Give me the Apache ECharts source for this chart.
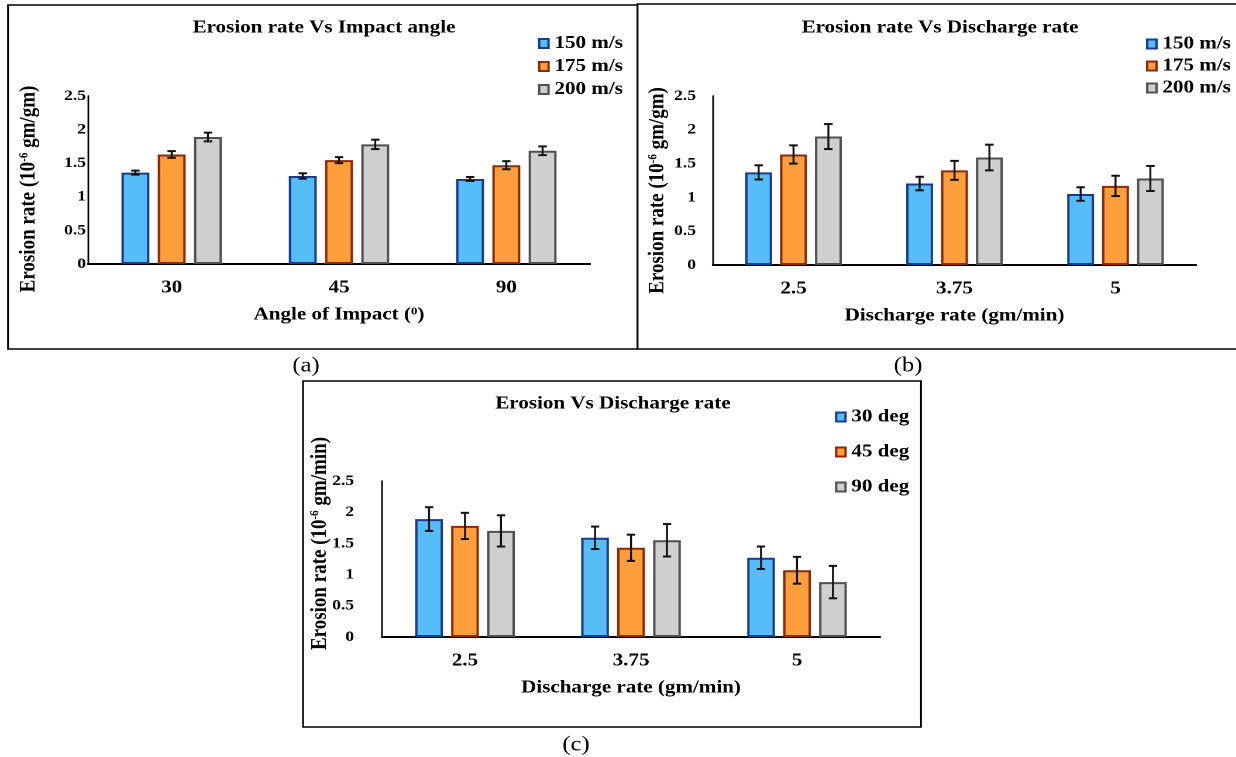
<!DOCTYPE html>
<html>
<head>
<meta charset="utf-8">
<title>Erosion rate charts</title>
<script src="https://cdn.jsdelivr.net/npm/echarts@6/dist/echarts.min.js"></script>
<style>
  html, body { margin: 0; padding: 0; background: #fff; overflow: hidden; }
  #main { height: 757px; transform-origin: 0 0; }
</style>
</head>
<body>
<div id="main"></div>
<script>
// categories
const angleCats = ['30', '45', '90'];
const dischargeCats = ['2.5', '3.75', '5'];

// (a) erosion rate vs impact angle
const a150 = [1.36, 1.31, 1.265];
const a175 = [1.63, 1.545, 1.47];
const a200 = [1.89, 1.78, 1.685];
const a150Err = [0.03, 0.04, 0.03];
const a175Err = [0.05, 0.045, 0.06];
const a200Err = [0.065, 0.07, 0.065];

// (b) erosion rate vs discharge rate
const b150 = [1.37, 1.205, 1.05];
const b175 = [1.635, 1.40, 1.17];
const b200 = [1.90, 1.59, 1.28];
const b150Err = [0.105, 0.10, 0.10];
const b175Err = [0.135, 0.14, 0.15];
const b200Err = [0.185, 0.19, 0.185];

// (c) erosion vs discharge rate, per angle
const c30 = [1.89, 1.59, 1.27];
const c45 = [1.78, 1.43, 1.07];
const c90 = [1.70, 1.55, 0.88];
const c30Err = [0.19, 0.18, 0.18];
const c45Err = [0.21, 0.21, 0.215];
const c90Err = [0.25, 0.26, 0.26];

const speedNames = ['150 m/s', '175 m/s', '200 m/s'];
const angleNames = ['30 deg', '45 deg', '90 deg'];

const FONT = "'Liberation Serif', 'Times New Roman', serif";
const CAT_GAP = 0.4;
const BAR_GAP = 0.3;

// the source figure is stretched sideways, so the whole canvas is too
const SX = 1.17;
const sx = v => v / SX;

const palette = [
    { fill: '#57bdf8', border: '#173c8c' },
    { fill: '#ff9f3c', border: '#8a2a08' },
    { fill: '#cfcfcf', border: '#505050' }
];

const dom = document.getElementById('main');
dom.style.width = (1236 / SX) + 'px';
dom.style.transform = 'scaleX(' + SX + ')';
const chart = echarts.init(dom, null, { devicePixelRatio: 2 });

function errorRender(slot) {
    return (params, api) => {
        const x = api.value(0);
        const v = api.value(1);
        const e = api.value(2);
        const band = api.size([1, 0])[0];
        const bw = band * (1 - CAT_GAP) / (3 + 2 * BAR_GAP);
        const off = (slot - 1) * bw * (1 + BAR_GAP);
        const hi = api.coord([x, v + e]);
        const lo = api.coord([x, v - e]);
        const cx = hi[0] + off;
        const cap = 3.6;
        const st = { stroke: '#111', lineWidth: 2 };
        return {
            type: 'group',
            children: [
                { type: 'line', shape: { x1: cx, y1: hi[1], x2: cx, y2: lo[1] }, style: { stroke: '#111', lineWidth: 1.7 } },
                { type: 'line', shape: { x1: cx - cap, y1: hi[1], x2: cx + cap, y2: hi[1] }, style: st },
                { type: 'line', shape: { x1: cx - cap, y1: lo[1], x2: cx + cap, y2: lo[1] }, style: st }
            ]
        };
    };
}

function barSeries(name, values, slot, idx) {
    return {
        name: name,
        type: 'bar',
        xAxisIndex: idx,
        yAxisIndex: idx,
        barCategoryGap: '40%',
        barGap: '30%',
        data: values,
        itemStyle: {
            color: palette[slot].fill,
            borderColor: palette[slot].border,
            borderWidth: 2
        }
    };
}

function errSeries(values, errs, slot, idx) {
    return {
        type: 'custom',
        xAxisIndex: idx,
        yAxisIndex: idx,
        z: 5,
        renderItem: errorRender(slot),
        data: values.map((v, i) => [i, v, errs[i]]),
        encode: { x: 0, y: [1, 2] },
        silent: true
    };
}

const grids = [
    { left: sx(88), top: 96, width: sx(502), height: 168 },
    { left: sx(713), top: 96, width: sx(483), height: 169 },
    { left: sx(382), top: 481, width: sx(498), height: 156 }
];

const richSup = {
    sup: { fontFamily: FONT, fontWeight: 'bold', fontSize: 11, verticalAlign: 'top', color: '#000' }
};

function xAxis(idx, cats, name) {
    return {
        type: 'category',
        gridIndex: idx,
        data: cats,
        axisTick: { show: false },
        axisLine: { lineStyle: { color: '#000', width: 2 } },
        axisLabel: { color: '#000', fontFamily: FONT, fontWeight: 'bold', fontSize: 18, margin: 15 },
        name: name,
        nameLocation: 'middle',
        nameGap: 42,
        nameMoveOverlap: false,
        nameTextStyle: { color: '#000', fontFamily: FONT, fontWeight: 'bold', fontSize: 18, rich: richSup }
    };
}

function yAxis(idx, name, gap, pad, labelGap) {
    return {
        type: 'value',
        gridIndex: idx,
        min: 0,
        max: 2.5,
        interval: 0.5,
        splitLine: { show: false },
        axisTick: { show: false },
        axisLine: { show: true, lineStyle: { color: '#000', width: 1.4 } },
        axisLabel: { color: '#000', fontFamily: FONT, fontWeight: 'bold', fontSize: 15, margin: sx(labelGap) },
        name: name,
        nameLocation: 'middle',
        nameGap: sx(gap),
        nameMoveOverlap: false,
        nameTextStyle: { color: '#000', fontFamily: FONT, fontWeight: 'bold', fontSize: 19, padding: pad, rich: richSup }
    };
}

function legend(names, left, top, lineH, gap) {
    return {
        data: names,
        orient: 'vertical',
        left: sx(left),
        top: top,
        padding: 0,
        itemGap: gap,
        itemWidth: 8,
        itemHeight: 9,
        icon: 'rect',
        selectedMode: false,
        textStyle: { color: '#000', fontFamily: FONT, fontWeight: 'bold', fontSize: 18, lineHeight: lineH }
    };
}

function titleAt(text, x, y) {
    return {
        text: text,
        left: sx(x),
        top: y,
        padding: 0,
        textAlign: 'center',
        textStyle: { color: '#000', fontFamily: FONT, fontWeight: 'bold', fontSize: 18 }
    };
}

function caption(text, x, y) {
    return {
        type: 'text',
        x: sx(x),
        y: y,
        style: { text: text, fill: '#000', font: '21px ' + FONT, textAlign: 'center', textVerticalAlign: 'middle' }
    };
}

function box(x, y, w, h) {
    return {
        type: 'rect',
        shape: { x: sx(x), y: y, width: sx(w), height: h },
        style: { fill: 'none', stroke: '#000', lineWidth: 1.5 },
        silent: true
    };
}

const option = {
    backgroundColor: '#fff',
    animation: false,
    title: [
        titleAt('Erosion rate Vs Impact angle', 324, 19),
        titleAt('Erosion rate Vs Discharge rate', 940, 19),
        titleAt('Erosion Vs Discharge rate', 613, 395)
    ],
    legend: [
        legend(speedNames, 538, 32, 23, 0),
        legend(speedNames, 1146, 33, 22, 0),
        legend(angleNames, 835, 407, 20, 15)
    ],
    grid: grids,
    xAxis: [
        xAxis(0, angleCats, 'Angle of Impact ({sup|0})'),
        xAxis(1, dischargeCats, 'Discharge rate (gm/min)'),
        xAxis(2, dischargeCats, 'Discharge rate (gm/min)')
    ],
    yAxis: [
        yAxis(0, 'Erosion rate (10{sup|-6} gm/gm)', 48, [0, 18, 0, 0], 2),
        yAxis(1, 'Erosion rate (10{sup|-6} gm/gm)', 44, [0, 20, 0, 0], 17),
        yAxis(2, 'Erosion rate (10{sup|-6} gm/min)', 51, [0, 0, 0, 31], 28)
    ],
    graphic: [
        box(8, 5, 629.5, 344),
        box(637.5, 4, 610, 345),
        box(303, 381, 618, 346),
        caption('(a)', 306, 366),
        caption('(b)', 908, 366),
        caption('(c)', 576, 745)
    ],
    series: [
        barSeries(speedNames[0], a150, 0, 0),
        barSeries(speedNames[1], a175, 1, 0),
        barSeries(speedNames[2], a200, 2, 0),
        errSeries(a150, a150Err, 0, 0),
        errSeries(a175, a175Err, 1, 0),
        errSeries(a200, a200Err, 2, 0),

        barSeries(speedNames[0], b150, 0, 1),
        barSeries(speedNames[1], b175, 1, 1),
        barSeries(speedNames[2], b200, 2, 1),
        errSeries(b150, b150Err, 0, 1),
        errSeries(b175, b175Err, 1, 1),
        errSeries(b200, b200Err, 2, 1),

        barSeries(angleNames[0], c30, 0, 2),
        barSeries(angleNames[1], c45, 1, 2),
        barSeries(angleNames[2], c90, 2, 2),
        errSeries(c30, c30Err, 0, 2),
        errSeries(c45, c45Err, 1, 2),
        errSeries(c90, c90Err, 2, 2)
    ]
};

chart.setOption(option);
</script>
</body>
</html>
